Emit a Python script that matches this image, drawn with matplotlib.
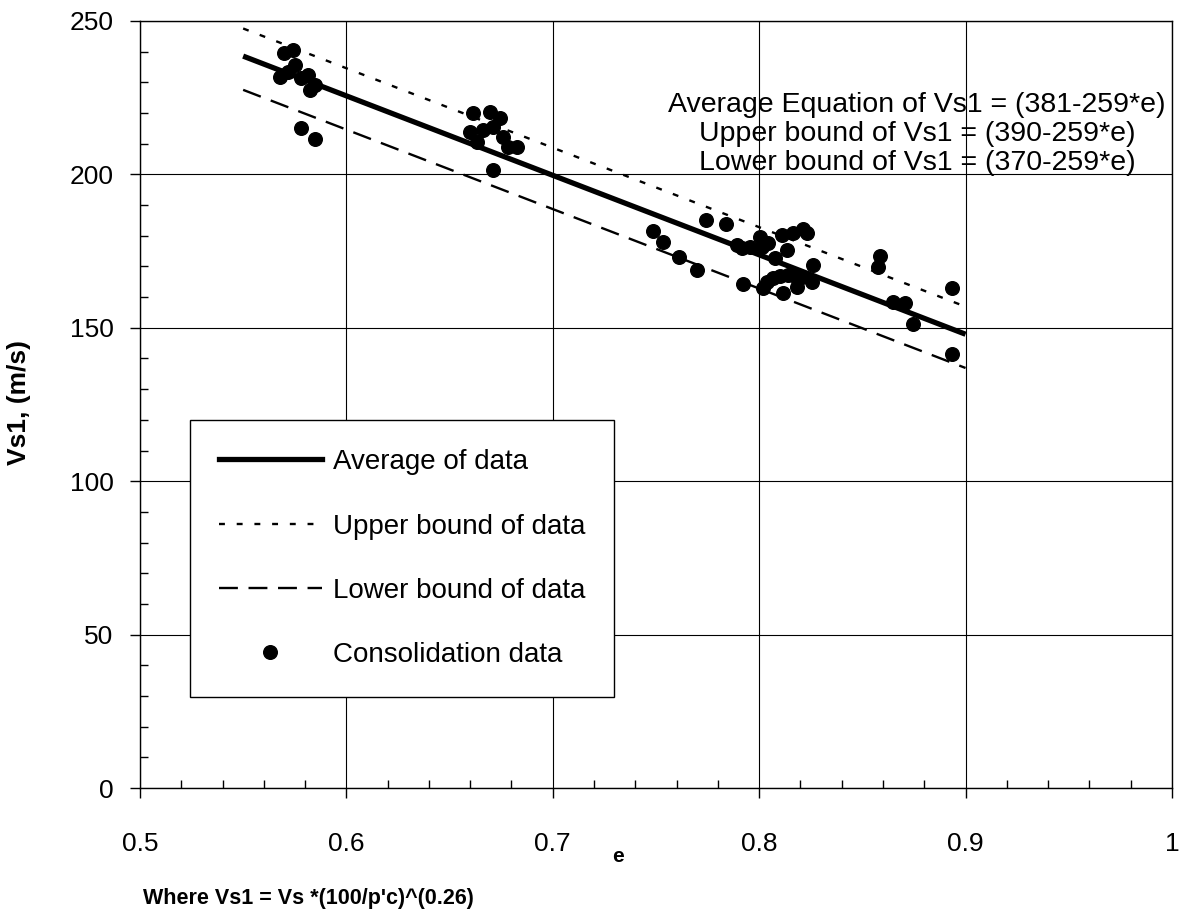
import numpy as np
import matplotlib
matplotlib.use("Agg")
import matplotlib.pyplot as plt
from matplotlib import rcParams
from matplotlib.ticker import MultipleLocator, FuncFormatter
from matplotlib.lines import Line2D

rcParams['font.family'] = ['Liberation Sans', 'DejaVu Sans']

# Fitted lines: Vs1 = a - b*e
e_line = np.array([0.55, 0.9])
a_avg, a_up, a_low, slope = 381., 390., 370., 259.

# Consolidation data
e_data = [0.5743, 0.570, 0.575, 0.568, 0.5719, 0.578, 0.5815, 0.5824, 0.585,
          0.578, 0.5848,
          0.6615, 0.6696, 0.6744, 0.6599, 0.6663, 0.6631, 0.676, 0.6785,
          0.6825, 0.6712, 0.671,
          0.7742, 0.7839, 0.7487, 0.7535, 0.7613, 0.7697,
          0.7891, 0.7915, 0.7955, 0.8004, 0.8012, 0.8044, 0.8109, 0.8165,
          0.8214, 0.8230, 0.8133, 0.8077, 0.8259, 0.7923, 0.802, 0.8036,
          0.8068, 0.81, 0.814, 0.8173, 0.8206, 0.8254, 0.8117, 0.8181,
          0.8585, 0.8577, 0.8650, 0.8706, 0.8747, 0.8933, 0.8933]
vs1_data = [240.5, 239.5, 235.7, 231.9, 233.5, 231.3, 232.4, 227.5, 229.1,
            215.0, 211.4,
            219.9, 220.4, 218.3, 213.9, 214.5, 210.7, 212.3, 209.0,
            209.0, 201.4, 215.5,
            185.1, 183.8, 181.6, 178.0, 173.2, 169.0,
            177.0, 175.9, 176.4, 179.7, 176.4, 177.5, 180.2, 180.8,
            182.1, 180.8, 175.4, 172.6, 170.5, 164.2, 162.9, 165.0,
            166.1, 166.9, 167.2, 166.9, 166.4, 165.0, 161.4, 163.4,
            173.4, 169.7, 158.5, 158.2, 151.1, 163.1, 141.5]

fig = plt.figure(figsize=(11.82, 9.16), dpi=100)
ax = fig.add_axes([0.1184, 0.1397, 0.8731, 0.8374])

ax.plot(e_line, a_avg - slope * e_line, color='k', lw=3.8, solid_capstyle='butt')
ax.plot(e_line, a_up - slope * e_line, color='k', lw=1.7, dashes=(2.5, 5.0))
ax.plot(e_line, a_low - slope * e_line, color='k', lw=1.7, dashes=(8.0, 4.5))
ax.plot(e_data, vs1_data, 'o', color='k', ms=9.8, mec='k')

ax.set_xlim(0.5, 1.0)
ax.set_ylim(0, 250)
ax.xaxis.set_major_locator(MultipleLocator(0.1))
ax.xaxis.set_minor_locator(MultipleLocator(0.02))
ax.yaxis.set_major_locator(MultipleLocator(50))
ax.yaxis.set_minor_locator(MultipleLocator(10))
ax.xaxis.set_major_formatter(FuncFormatter(lambda v, p: '%g' % round(v, 2)))
ax.tick_params(which='major', direction='out', length=7, width=1, labelsize=19, color='k')
ax.tick_params(axis='x', which='major', pad=25)
ax.tick_params(axis='y', which='major', pad=12)
ax.tick_params(which='minor', direction='in', length=6, width=1, color='k')
ax.grid(True, which='major', color='k', lw=0.8)
for s in ax.spines.values():
    s.set_color('k')
    s.set_linewidth(1.0)

fig.text(0.016, 0.5603, 'Vs1, (m/s)', rotation=90, ha='center', va='center',
         fontsize=19, fontweight='bold')

fig.text(0.7758, 0.8854, 'Average Equation of Vs1 = (381-259*e)', ha='center', va='center', fontsize=20.5)
fig.text(0.7758, 0.8537, 'Upper bound of Vs1 = (390-259*e)', ha='center', va='center', fontsize=20.5)
fig.text(0.7758, 0.8220, 'Lower bound of Vs1 = (370-259*e)', ha='center', va='center', fontsize=20.5)

fig.text(0.523, 0.065, 'e', ha='center', va='center', fontsize=15, fontweight='bold')
fig.text(0.121, 0.019, "Where Vs1 = Vs *(100/p'c)^(0.26)", ha='left', va='center',
         fontsize=15.5, fontweight='bold')

handles = [
    Line2D([], [], color='k', lw=3.8),
    Line2D([], [], color='k', lw=1.7, dashes=(2.5, 5.0)),
    Line2D([], [], color='k', lw=1.7, dashes=(8.0, 4.5)),
    Line2D([], [], color='k', marker='o', ls='none', ms=9.8),
]
labels = ['Average of data', 'Upper bound of data', 'Lower bound of data', 'Consolidation data']
leg = ax.legend(handles, labels, loc='upper left', bbox_to_anchor=(0.0484, 0.4798),
                fontsize=20, frameon=True, fancybox=False, framealpha=1,
                edgecolor='k', handlelength=3.7, handletextpad=0.4,
                labelspacing=1.38, borderpad=1.05, borderaxespad=0)
leg.get_frame().set_linewidth(1.0)

fig.savefig('out.png', dpi=100)
